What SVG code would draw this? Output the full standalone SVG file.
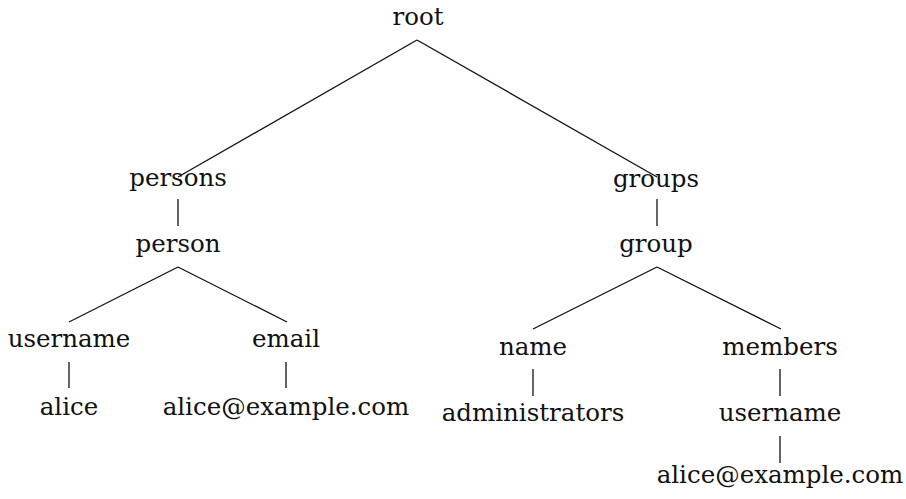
<svg xmlns="http://www.w3.org/2000/svg" width="906" height="499" viewBox="0 0 906 499">
  <style>
    text { font-family: "DejaVu Serif", "Liberation Serif", serif; font-size: 24.5px; fill: #111; text-anchor: middle; }
    .edge { stroke: #111; stroke-width: 1.3; fill: none; }
  </style>
  <rect width="906" height="499" fill="#fff"/>
  <g id="connectors">
    <line class="edge" x1="417" y1="40" x2="178" y2="177"/>
    <line class="edge" x1="417" y1="40" x2="657" y2="177"/>
    <line class="edge" x1="178" y1="199" x2="178" y2="226"/>
    <line class="edge" x1="657" y1="199" x2="657" y2="226"/>
    <line class="edge" x1="178" y1="267" x2="69" y2="322"/>
    <line class="edge" x1="178" y1="267" x2="287" y2="322"/>
    <line class="edge" x1="69" y1="362" x2="69" y2="388"/>
    <line class="edge" x1="286" y1="362" x2="286" y2="388"/>
    <line class="edge" x1="657" y1="267" x2="533" y2="329"/>
    <line class="edge" x1="657" y1="267" x2="781" y2="329"/>
    <line class="edge" x1="533" y1="369" x2="533" y2="396"/>
    <line class="edge" x1="780" y1="369" x2="780" y2="396"/>
    <line class="edge" x1="780" y1="436" x2="780" y2="463"/>
  </g>
  <g id="root"><text x="418" y="25">root</text></g>
  <g id="persons"><text x="178" y="186">persons</text></g>
  <g id="person"><text x="178" y="252">person</text></g>
  <g id="person-username"><text x="69" y="347">username</text></g>
  <g id="person-username-value"><text x="69" y="415">alice</text></g>
  <g id="person-email"><text x="286" y="347">email</text></g>
  <g id="person-email-value"><text x="286" y="415">alice@example.com</text></g>
  <g id="groups"><text x="656" y="187">groups</text></g>
  <g id="group"><text x="656" y="252">group</text></g>
  <g id="group-name"><text x="533" y="355">name</text></g>
  <g id="group-name-value"><text x="533" y="421">administrators</text></g>
  <g id="group-members"><text x="780" y="355">members</text></g>
  <g id="members-username"><text x="780" y="421">username</text></g>
  <g id="members-username-value"><text x="780" y="483">alice@example.com</text></g>
</svg>
